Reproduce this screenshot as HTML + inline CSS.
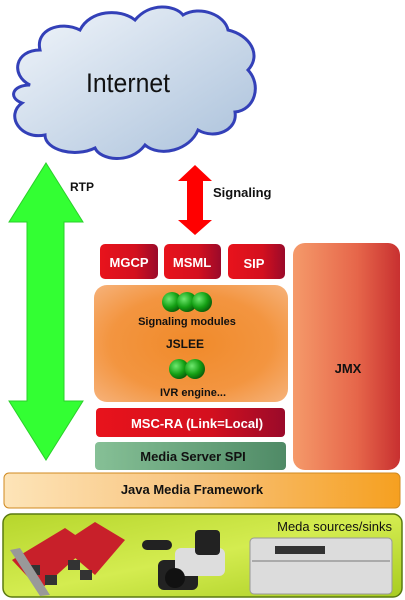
<!DOCTYPE html>
<html><head><meta charset="utf-8"><style>
html,body{margin:0;padding:0;background:#fff;}
svg{display:block;}
text{font-family:"Liberation Sans",sans-serif;font-weight:bold;}
</style></head><body>
<svg width="405" height="600" viewBox="0 0 405 600" xmlns="http://www.w3.org/2000/svg">
<defs>
<linearGradient id="cloud" x1="0" y1="0" x2="1" y2="1"><stop offset="0" stop-color="#f2f6fb"/><stop offset="1" stop-color="#a9c0da"/></linearGradient>
<linearGradient id="red" x1="0" y1="0" x2="1" y2="0"><stop offset="0" stop-color="#e8131c"/><stop offset="0.6" stop-color="#d4101e"/><stop offset="1" stop-color="#9a0a2a"/></linearGradient>
<linearGradient id="jmx" x1="0" y1="0" x2="1" y2="0"><stop offset="0" stop-color="#f59a6a"/><stop offset="0.6" stop-color="#e6664a"/><stop offset="1" stop-color="#c83030"/></linearGradient>
<radialGradient id="jslee" cx="0.5" cy="0.5" r="0.7"><stop offset="0" stop-color="#f08a2a"/><stop offset="0.6" stop-color="#f39540"/><stop offset="1" stop-color="#f6b27a"/></radialGradient>
<linearGradient id="spi" x1="0" y1="0" x2="1" y2="0"><stop offset="0" stop-color="#86c096"/><stop offset="1" stop-color="#4f8a66"/></linearGradient>
<linearGradient id="jmf" x1="0" y1="0" x2="1" y2="0"><stop offset="0" stop-color="#fde4b8"/><stop offset="0.5" stop-color="#f8c27a"/><stop offset="1" stop-color="#f6a020"/></linearGradient>
<linearGradient id="media" x1="0" y1="0" x2="1" y2="1"><stop offset="0" stop-color="#b6d62c"/><stop offset="0.5" stop-color="#d4ec50"/><stop offset="1" stop-color="#a8cc20"/></linearGradient>
<radialGradient id="ball" cx="0.35" cy="0.35" r="0.7"><stop offset="0" stop-color="#6fe86f"/><stop offset="0.6" stop-color="#14a014"/><stop offset="1" stop-color="#0a5a0a"/></radialGradient>
</defs>
<path d="M30,85 C10,75 15,50 40,50 C35,30 60,20 80,30 C90,10 120,8 135,20 C150,2 175,5 183,15 C200,5 225,15 228,30 C250,35 262,55 248,70 C262,85 255,110 235,112 C238,130 215,140 198,130 C190,150 160,158 145,145 C130,165 100,160 95,148 C75,158 45,150 45,135 C20,140 5,115 22,103 C8,98 12,85 30,85 Z" fill="url(#cloud)" stroke="#3340b8" stroke-width="3"/>
<text x="128" y="92" font-size="27" text-anchor="middle" style="font-weight:normal" fill="#111" textLength="84" lengthAdjust="spacingAndGlyphs">Internet</text>
<polygon points="46,163 83,222 64,222 64,401 83,401 46,460 9,401 27,401 27,222 9,222" fill="#33ff33" stroke="#2ad02a" stroke-width="1"/>
<text x="70" y="191" font-size="12" fill="#111">RTP</text>
<polygon points="195,165 212,181 203,181 203,220 212,220 195,235 178,220 187,220 187,181 178,181" fill="#f00"/>
<text x="213" y="197" font-size="13" fill="#111">Signaling</text>
<rect x="100" y="244" width="58" height="35" rx="5" fill="url(#red)"/>
<text x="129" y="267" font-size="13" fill="#fff" text-anchor="middle">MGCP</text>
<rect x="164" y="244" width="57" height="35" rx="5" fill="url(#red)"/>
<text x="192" y="267" font-size="13" fill="#fff" text-anchor="middle">MSML</text>
<rect x="228" y="244" width="57" height="35" rx="5" fill="url(#red)"/>
<text x="254" y="268" font-size="13" fill="#fff" text-anchor="middle">SIP</text>
<rect x="94" y="285" width="194" height="117" rx="13" fill="url(#jslee)"/>
<circle cx="172" cy="302" r="10" fill="url(#ball)"/>
<circle cx="187" cy="302" r="10" fill="url(#ball)"/>
<circle cx="202" cy="302" r="10" fill="url(#ball)"/>
<text x="187" y="325" font-size="11" fill="#111" text-anchor="middle">Signaling modules</text>
<text x="185" y="348" font-size="12" fill="#111" text-anchor="middle">JSLEE</text>
<circle cx="179" cy="369" r="10" fill="url(#ball)"/>
<circle cx="195" cy="369" r="10" fill="url(#ball)"/>
<text x="193" y="396" font-size="11" fill="#111" text-anchor="middle">IVR engine...</text>
<rect x="96" y="408" width="189" height="29" rx="4" fill="url(#red)"/>
<text x="197" y="428" font-size="13" fill="#fff" text-anchor="middle">MSC-RA (Link=Local)</text>
<rect x="95" y="442" width="191" height="28" rx="4" fill="url(#spi)"/>
<text x="193" y="461" font-size="13" fill="#111" text-anchor="middle">Media Server SPI</text>
<rect x="293" y="243" width="107" height="227" rx="12" fill="url(#jmx)"/>
<text x="348" y="373" font-size="13" fill="#111" text-anchor="middle">JMX</text>
<rect x="4" y="473" width="396" height="35" rx="5" fill="url(#jmf)" stroke="#d08a20" stroke-width="1"/>
<text x="192" y="494" font-size="13" fill="#111" text-anchor="middle">Java Media Framework</text>
<rect x="3" y="514" width="399" height="83" rx="9" fill="url(#media)" stroke="#5a7a10" stroke-width="1.5"/>
<text x="392" y="531" font-size="13" fill="#111" text-anchor="end" style="font-weight:normal">Meda sources/sinks</text>
<g>
<polygon points="12,560 65,528 90,545 40,590" fill="#c8202a"/>
<polygon points="60,545 95,522 125,540 95,575" fill="#c8202a"/>
<rect x="28" y="565" width="12" height="10" fill="#333"/>
<rect x="45" y="575" width="12" height="10" fill="#333"/>
<rect x="68" y="560" width="12" height="10" fill="#333"/>
<rect x="80" y="570" width="12" height="10" fill="#333"/>
<polygon points="10,550 20,548 50,595 40,596" fill="#999"/>
</g>
<g>
<rect x="158" y="560" width="40" height="30" rx="6" fill="#222"/>
<rect x="175" y="548" width="50" height="28" rx="6" fill="#ddd"/>
<rect x="195" y="530" width="25" height="25" rx="4" fill="#222"/>
<rect x="142" y="540" width="30" height="10" rx="5" fill="#222"/>
<circle cx="175" cy="578" r="10" fill="#111"/>
</g>
<rect x="250" y="538" width="142" height="56" rx="4" fill="#dcdcdc" stroke="#999"/>
<rect x="275" y="546" width="50" height="8" fill="#333"/>
<rect x="252" y="560" width="138" height="2" fill="#aaa"/>
</svg>
</body></html>
